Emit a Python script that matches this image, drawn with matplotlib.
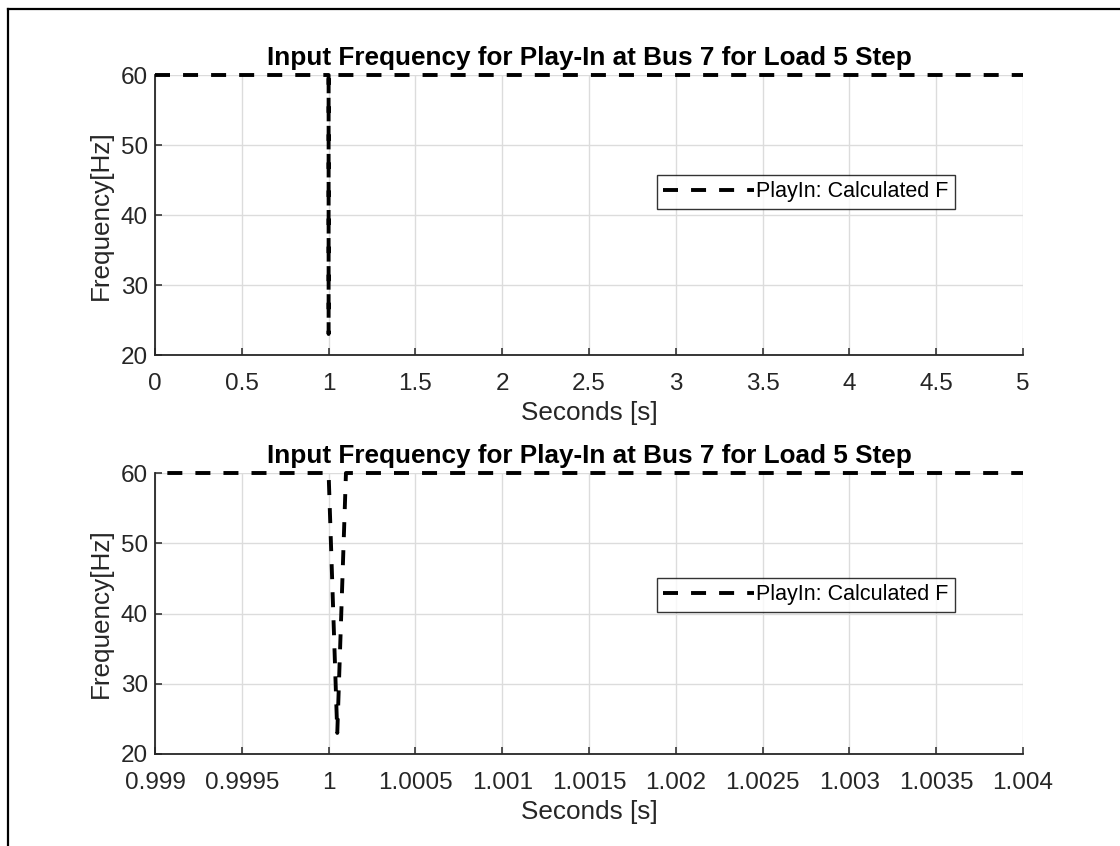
import matplotlib
matplotlib.use("Agg")
import matplotlib.pyplot as plt
from matplotlib.lines import Line2D
from matplotlib.patches import Rectangle

# Calculated frequency of the play-in signal around the load step
time_s = [0.0, 1.0, 1.00005, 1.0001, 5.0]
freq_hz = [60.0, 60.0, 23.0, 60.0, 60.0]

title_text = "Input Frequency for Play-In at Bus 7 for Load 5 Step"
legend_text = "PlayIn: Calculated F"
xlabel_text = "Seconds [s]"
ylabel_text = "Frequency[Hz]"

top_xticks = [0, 0.5, 1, 1.5, 2, 2.5, 3, 3.5, 4, 4.5, 5]
top_xlabels = ["0", "0.5", "1", "1.5", "2", "2.5", "3", "3.5", "4", "4.5", "5"]
bot_xticks = [0.999, 0.9995, 1.0, 1.0005, 1.001, 1.0015, 1.002, 1.0025, 1.003, 1.0035, 1.004]
bot_xlabels = ["0.999", "0.9995", "1", "1.0005", "1.001", "1.0015", "1.002",
               "1.0025", "1.003", "1.0035", "1.004"]
yticks = [20, 30, 40, 50, 60]

plt.rcParams["font.family"] = ["Liberation Sans", "DejaVu Sans"]
plt.rcParams["lines.scale_dashes"] = False

W, H = 1120, 846
fig = plt.figure(figsize=(W / 100, H / 100), dpi=100)

def px_axes(left, top, right, bottom):
    return [left / W, 1 - bottom / H, (right - left) / W, (bottom - top) / H]

axes_boxes = [px_axes(155, 75, 1023, 355), px_axes(155, 473, 1023, 754)]
xlims = [(0, 5), (0.999, 1.004)]
xticks_all = [top_xticks, bot_xticks]
xlabels_all = [top_xlabels, bot_xlabels]
legend_anchor = [(657, 175), (657, 578)]

axis_color = "#262626"
for box, xl, xt, xlab, anchor in zip(axes_boxes, xlims, xticks_all, xlabels_all, legend_anchor):
    ax = fig.add_axes(box)
    line, = ax.plot(time_s, freq_hz, color="black", linewidth=2.8,
                    linestyle=(0, (10.8, 9.4)), dash_capstyle="butt",
                    label=legend_text, zorder=3)
    # clip horizontally to the axes but let the 60 Hz trace show full width
    clip = Rectangle((0, -0.05), 1, 1.1, transform=ax.transAxes,
                     facecolor="none", edgecolor="none")
    line.set_clip_path(clip)
    ax.set_xlim(*xl)
    ax.set_ylim(20, 60)
    ax.set_xticks(xt)
    ax.set_xticklabels(xlab)
    ax.set_yticks(yticks)
    ax.grid(True, color="#dcdcdc", linewidth=1.0, linestyle="-")
    ax.set_axisbelow(True)
    for side in ("top", "right"):
        ax.spines[side].set_visible(False)
    for side in ("left", "bottom"):
        ax.spines[side].set_color(axis_color)
        ax.spines[side].set_linewidth(1.3)
    ax.tick_params(direction="in", length=5, width=1.1, colors=axis_color,
                   labelsize=17.5)
    ax.tick_params(axis="x", pad=13)
    ax.tick_params(axis="y", pad=5)
    ax.set_xlabel(xlabel_text, fontsize=18.8, color=axis_color, labelpad=4)
    ax.set_ylabel(ylabel_text, fontsize=18.8, color=axis_color, labelpad=6)
    ax.set_title(title_text, fontsize=18.8, fontweight="bold", pad=7)
    leg = ax.legend(loc="upper left",
                    bbox_to_anchor=(anchor[0] / W, 1 - anchor[1] / H),
                    bbox_transform=fig.transFigure,
                    fontsize=15.5, frameon=True, fancybox=False,
                    handlelength=4.2, handletextpad=0.1, borderpad=0.3,
                    borderaxespad=0)
    leg.get_frame().set_edgecolor("black")
    leg.get_frame().set_linewidth(1.0)

# Frame lines along the top and left edges of the figure
fig.add_artist(Line2D([8 / W, 1.0], [1 - 9.5 / H, 1 - 9.5 / H],
                      transform=fig.transFigure, color="black", linewidth=1.6))
fig.add_artist(Line2D([8 / W, 8 / W], [0.0, 1 - 9.5 / H],
                      transform=fig.transFigure, color="black", linewidth=1.6))

fig.savefig("out.png", dpi=100, facecolor="white")
